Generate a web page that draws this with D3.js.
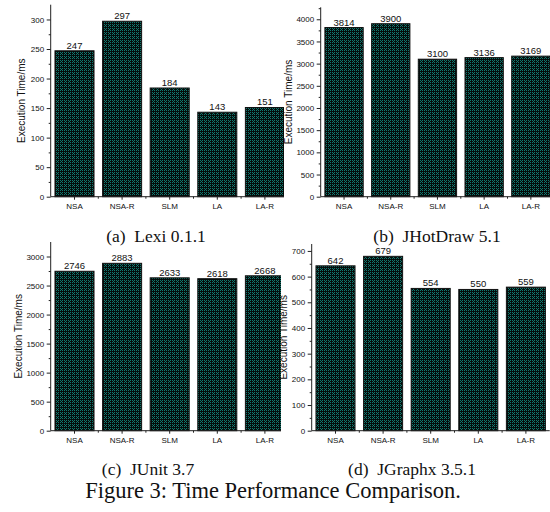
<!DOCTYPE html>
<html>
<head>
<meta charset="utf-8">
<script src="https://cdn.jsdelivr.net/npm/d3@7/dist/d3.min.js"></script>
<style>
  html, body { margin: 0; padding: 0; background: #fff; }
  svg { display: block; }
</style>
</head>
<body>
<svg id="fig" width="550" height="512"></svg>
<script>
// dados
const categories     = ['NSA', 'NSA-R', 'SLM', 'LA', 'LA-R'];
const lexiValues     = [247, 297, 184, 143, 151];
const jhotdrawValues = [3814, 3900, 3100, 3136, 3169];
const junitValues    = [2746, 2883, 2633, 2618, 2668];
const jgraphxValues  = [642, 679, 554, 550, 559];
const panelCaptions  = ['(a)\u00a0 Lexi 0.1.1', '(b)\u00a0 JHotDraw 5.1', '(c)\u00a0 JUnit 3.7', '(d)\u00a0 JGraphx 3.5.1'];
const yMaxes         = [325, 4270, 3250, 727];
const yMajorSteps    = [50, 500, 500, 100];
const yTitle         = 'Execution Time/ms';
const figureCaption  = 'Figure 3: Time Performance Comparison.';

// posição de cada painel (eixos) na página; bgX = início do fundo branco (painéis da direita cobrem os da esquerda)
const layout = [
  { x0: 50.7,  x1: 288.7, top: 4.7,  bottom: 196.7, capX: 156, capY: 242, titleDx: 28, bgX: null },
  { x0: 320.7, x1: 554.2, top: 7.3,  bottom: 196.7, capX: 437, capY: 241.5, titleDx: 31, bgX: 284 },
  { x0: 50.7,  x1: 288.7, top: 242,  bottom: 430.7, capX: 148, capY: 475, titleDx: 31, bgX: null },
  { x0: 311.7, x1: 549.7, top: 244,  bottom: 430.7, capX: 412, capY: 475, titleDx: 27, bgX: 281 },
];
const series = [lexiValues, jhotdrawValues, junitValues, jgraphxValues];

const svg = d3.select('#fig');
const SANS = 'Liberation Sans, Arial, sans-serif';
const SERIF = 'Liberation Serif, Times New Roman, serif';

// padrão xadrez preto/verde-azulado das barras
const defs = svg.append('defs');
const pat = defs.append('pattern').attr('id', 'chk')
  .attr('patternUnits', 'userSpaceOnUse').attr('width', 4).attr('height', 4);
pat.append('rect').attr('width', 4).attr('height', 4).attr('fill', '#040c0b');
[[0, 0], [2, 0], [1, 1], [0, 2], [2, 2]].forEach(([px, py]) => {
  pat.append('rect').attr('x', px).attr('y', py).attr('width', 1).attr('height', 1).attr('fill', '#11786e');
});

function drawPanel(i) {
  const L = layout[i], vals = series[i];
  const g = svg.append('g');

  if (L.bgX != null) {
    g.append('rect').attr('x', L.bgX).attr('y', L.top + 2)
      .attr('width', 550 - L.bgX).attr('height', L.bottom - L.top + 22).attr('fill', '#fff');
  }

  const x = d3.scaleBand().domain(categories).range([L.x0, L.x1]).paddingInner(0.18).paddingOuter(0.09);
  const y = d3.scaleLinear().domain([0, yMaxes[i]]).range([L.bottom, L.top]);
  const step = yMajorSteps[i];
  const majors = d3.range(0, yMaxes[i] + 1e-6, step);
  const minors = d3.range(step / 2, yMaxes[i], step);

  // barras
  g.selectAll('rect.bar').data(vals).join('rect')
    .attr('class', 'bar')
    .attr('x', (d, k) => x(categories[k])).attr('width', x.bandwidth())
    .attr('y', (d) => y(d)).attr('height', (d) => L.bottom - y(d))
    .attr('fill', 'url(#chk)').attr('stroke', '#111').attr('stroke-width', 1);

  // rótulos de valor
  g.selectAll('text.val').data(vals).join('text')
    .attr('class', 'val')
    .attr('x', (d, k) => x(categories[k]) + x.bandwidth() / 2)
    .attr('y', (d) => y(d) - 2)
    .attr('text-anchor', 'middle').attr('font-family', SANS).attr('font-size', 9.5).attr('fill', '#111')
    .text((d) => d);

  // eixo y
  const ya = g.append('g').attr('transform', `translate(${L.x0},0)`)
    .call(d3.axisLeft(y).tickValues(majors).tickSize(4).tickPadding(2.5).tickFormat(d3.format('d')));
  ya.select('.domain').attr('stroke', '#222').attr('d', `M0,${L.bottom}V${L.top}`);
  ya.selectAll('.tick line').attr('stroke', '#222');
  ya.selectAll('.tick text').attr('font-family', SANS).attr('font-size', 8).attr('fill', '#111');
  g.append('g').attr('transform', `translate(${L.x0},0)`)
    .call(d3.axisLeft(y).tickValues(minors).tickSize(2).tickFormat(''))
    .call((s) => s.select('.domain').remove())
    .selectAll('.tick line').attr('stroke', '#222');

  // eixo x
  const xa = g.append('g').attr('transform', `translate(0,${L.bottom})`)
    .call(d3.axisBottom(x).tickSize(3).tickPadding(4));
  xa.select('.domain').attr('stroke', '#222').attr('d', `M${L.x0},0H${L.x1}`);
  xa.selectAll('.tick line').attr('stroke', '#222');
  xa.selectAll('.tick text').attr('font-family', SANS).attr('font-size', 8).attr('fill', '#111');
  g.append('g').attr('transform', `translate(0,${L.bottom})`)
    .selectAll('line').data(categories.slice(1)).join('line')
    .attr('x1', (c) => x(c) - x.step() * x.paddingInner() / 2)
    .attr('x2', (c) => x(c) - x.step() * x.paddingInner() / 2)
    .attr('y1', 0).attr('y2', 2).attr('stroke', '#222');

  // título do eixo y
  g.append('text')
    .attr('transform', `translate(${L.x0 - L.titleDx},${(L.top + L.bottom) / 2}) rotate(-90)`)
    .attr('text-anchor', 'middle').attr('dominant-baseline', 'middle')
    .attr('font-family', SANS).attr('font-size', 10).attr('fill', '#111')
    .text(yTitle);
}

// ordem: b cobre a, d cobre c
[0, 2, 1, 3].forEach(drawPanel);

// legendas dos painéis por cima de tudo
svg.append('g').selectAll('text').data(panelCaptions).join('text')
  .attr('x', (d, i) => layout[i].capX).attr('y', (d, i) => layout[i].capY)
  .attr('text-anchor', 'middle').attr('font-family', SERIF).attr('font-size', 17.5).attr('fill', '#111')
  .text((d) => d);

svg.append('text').attr('x', 273).attr('y', 498)
  .attr('text-anchor', 'middle').attr('font-family', SERIF).attr('font-size', 22.5).attr('fill', '#111')
  .text(figureCaption);
</script>
</body>
</html>
